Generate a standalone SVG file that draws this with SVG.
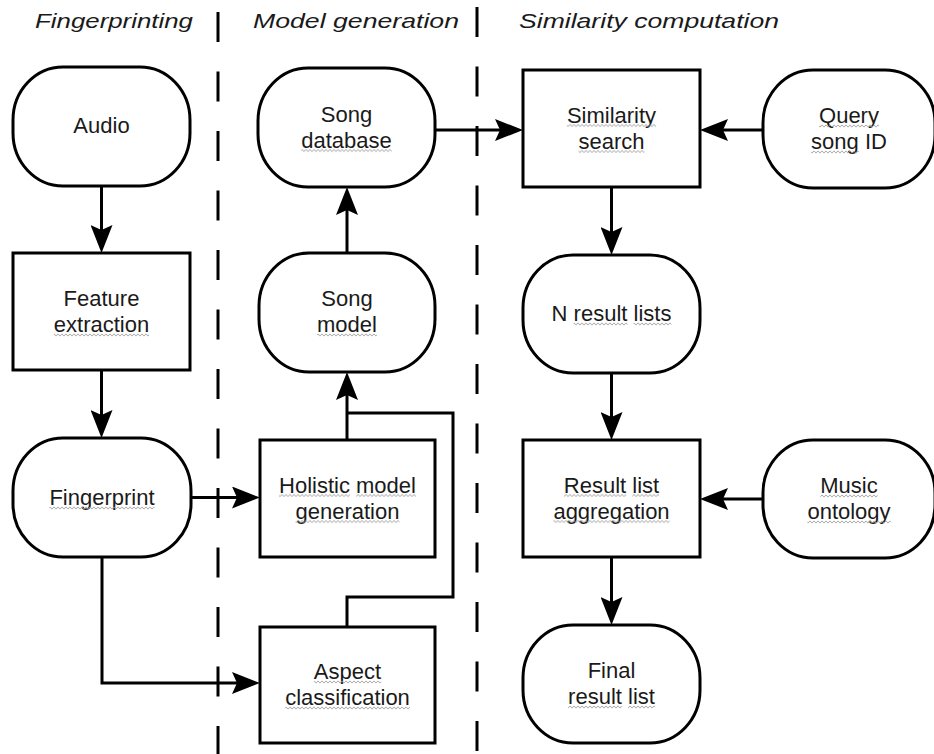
<svg xmlns="http://www.w3.org/2000/svg" width="934" height="754" viewBox="0 0 934 754">
<style>
.node{fill:#fff;stroke:#000;stroke-width:3}
.t{font-family:"Liberation Sans",Arial,sans-serif;font-size:22px;fill:#1a1a1a;text-anchor:middle}
.h{font-family:"Liberation Sans",Arial,sans-serif;font-size:21px;font-style:italic;fill:#1a1a1a}
.c{fill:none;stroke:#000;stroke-width:3}
.sep{fill:none;stroke:#000;stroke-width:3;stroke-dasharray:30 29.5}
.w{fill:url(#wave)}
</style>
<defs>
<marker id="arr" markerUnits="userSpaceOnUse" markerWidth="28" markerHeight="22" refX="8" refY="11" orient="auto">
<path d="M0,0 L28,11 L0,22 L5,11 Z" fill="#000"/>
</marker>
<pattern id="wave" patternUnits="userSpaceOnUse" width="4" height="4">
<path d="M0,3 C0.7,3 1.3,1 2,1 C2.7,1 3.3,3 4,3" fill="none" stroke="#9a9a9a" stroke-width="1"/>
</pattern>
</defs>
<rect width="934" height="754" fill="#fff"/>

<g id="headers">
<text class="h" x="35" y="28" textLength="158" lengthAdjust="spacingAndGlyphs">Fingerprinting</text>
<text class="h" x="253" y="28" textLength="206" lengthAdjust="spacingAndGlyphs">Model generation</text>
<text class="h" x="519" y="28" textLength="260" lengthAdjust="spacingAndGlyphs">Similarity computation</text>
</g>

<g id="separators">
<line class="sep" x1="218" y1="12" x2="218" y2="754"/>
<line class="sep" x1="477" y1="7" x2="477" y2="754"/>
</g>

<g id="connectors">
<path class="c" d="M101.5,186 V233" marker-end="url(#arr)"/>
<path class="c" d="M101.5,370 V418" marker-end="url(#arr)"/>
<path class="c" d="M191,497.5 H240" marker-end="url(#arr)"/>
<path class="c" d="M102,557 V683 H240" marker-end="url(#arr)"/>
<path class="c" d="M347,440 V392" marker-end="url(#arr)"/>
<path class="c" d="M347,627 V597 H453 V413 H347"/>
<path class="c" d="M347,253 V207" marker-end="url(#arr)"/>
<path class="c" d="M435,130 H503" marker-end="url(#arr)"/>
<path class="c" d="M763,130 H720" marker-end="url(#arr)"/>
<path class="c" d="M611.5,187 V235" marker-end="url(#arr)"/>
<path class="c" d="M611.5,373 V420" marker-end="url(#arr)"/>
<path class="c" d="M763,499 H720" marker-end="url(#arr)"/>
<path class="c" d="M611.5,557 V605" marker-end="url(#arr)"/>
</g>

<g id="audio">
<rect class="node" x="13" y="67" width="177" height="119" rx="50" ry="53"/>
<text class="t" x="101.5" y="133">Audio</text>
</g>
<g id="feature-extraction">
<rect class="node" x="13" y="253" width="177" height="117"/>
<text class="t" x="101.5" y="306">Feature</text>
<text class="t" x="101.5" y="332">extraction</text>
<rect class="w" x="53.8" y="0" width="95.4" height="4" transform="translate(0,333)"/>
</g>
<g id="fingerprint">
<rect class="node" x="13" y="438" width="178" height="119" rx="50" ry="53"/>
<text class="t" x="102" y="505">Fingerprint</text>
<rect class="w" x="49.4" y="0" width="105.1" height="4" transform="translate(0,506)"/>
</g>
<g id="song-database">
<rect class="node" x="258" y="68" width="177" height="119" rx="50" ry="53"/>
<text class="t" x="346.5" y="121.5">Song</text>
<text class="t" x="346.5" y="147.5">database</text>
<rect class="w" x="301.2" y="0" width="90.5" height="4" transform="translate(0,148.5)"/>
</g>
<g id="song-model">
<rect class="node" x="259" y="253" width="176" height="119" rx="50" ry="53"/>
<text class="t" x="347" y="306">Song</text>
<text class="t" x="347" y="332">model</text>
<rect class="w" x="317" y="0" width="59.9" height="4" transform="translate(0,333)"/>
</g>
<g id="holistic-model-generation">
<rect class="node" x="260" y="440" width="175" height="117"/>
<text class="t" x="347.5" y="492.5">Holistic model</text>
<text class="t" x="347.5" y="518.5">generation</text>
<rect class="w" x="279" y="0" width="70.9" height="4" transform="translate(0,493.5)"/>
<rect class="w" x="356.1" y="0" width="59.9" height="4" transform="translate(0,493.5)"/>
<rect class="w" x="295.5" y="0" width="104" height="4" transform="translate(0,519.5)"/>
</g>
<g id="aspect-classification">
<rect class="node" x="260" y="627" width="175" height="116"/>
<text class="t" x="347.5" y="679">Aspect</text>
<text class="t" x="347.5" y="705">classification</text>
<rect class="w" x="313.9" y="0" width="67.3" height="4" transform="translate(0,680)"/>
<rect class="w" x="285.2" y="0" width="124.7" height="4" transform="translate(0,706)"/>
</g>
<g id="similarity-search">
<rect class="node" x="523" y="70" width="177" height="117"/>
<text class="t" x="611.5" y="122.5">Similarity</text>
<text class="t" x="611.5" y="148.5">search</text>
<rect class="w" x="566.9" y="0" width="89.2" height="4" transform="translate(0,123.5)"/>
<rect class="w" x="578.5" y="0" width="66" height="4" transform="translate(0,149.5)"/>
</g>
<g id="query-song-id">
<rect class="node" x="763" y="70" width="172" height="118" rx="50" ry="53"/>
<text class="t" x="849" y="123">Query</text>
<text class="t" x="849" y="149">song ID</text>
<rect class="w" x="819" y="0" width="59.9" height="4" transform="translate(0,124)"/>
<rect class="w" x="811.1" y="0" width="47.7" height="4" transform="translate(0,150)"/>
</g>
<g id="n-result-lists">
<rect class="node" x="523" y="255" width="177" height="118" rx="50" ry="53"/>
<text class="t" x="611.5" y="321">N result lists</text>
<rect class="w" x="573.6" y="0" width="53.8" height="4" transform="translate(0,322)"/>
<rect class="w" x="633.5" y="0" width="37.9" height="4" transform="translate(0,322)"/>
</g>
<g id="result-list-aggregation">
<rect class="node" x="523" y="440" width="177" height="117"/>
<text class="t" x="611.5" y="492.5">Result list</text>
<text class="t" x="611.5" y="518.5">aggregation</text>
<rect class="w" x="563.9" y="0" width="62.3" height="4" transform="translate(0,493.5)"/>
<rect class="w" x="632.3" y="0" width="26.9" height="4" transform="translate(0,493.5)"/>
<rect class="w" x="553.4" y="0" width="116.2" height="4" transform="translate(0,519.5)"/>
</g>
<g id="music-ontology">
<rect class="node" x="763" y="440" width="172" height="118" rx="50" ry="53"/>
<text class="t" x="849" y="493">Music</text>
<text class="t" x="849" y="519">ontology</text>
<rect class="w" x="820.3" y="0" width="57.4" height="4" transform="translate(0,494)"/>
<rect class="w" x="807.4" y="0" width="83.2" height="4" transform="translate(0,520)"/>
</g>
<g id="final-result-list">
<rect class="node" x="523" y="625" width="177" height="118" rx="50" ry="53"/>
<text class="t" x="611.5" y="678">Final</text>
<text class="t" x="611.5" y="704">result list</text>
<rect class="w" x="568.1" y="0" width="53.8" height="4" transform="translate(0,705)"/>
<rect class="w" x="628" y="0" width="26.9" height="4" transform="translate(0,705)"/>
</g>
</svg>
